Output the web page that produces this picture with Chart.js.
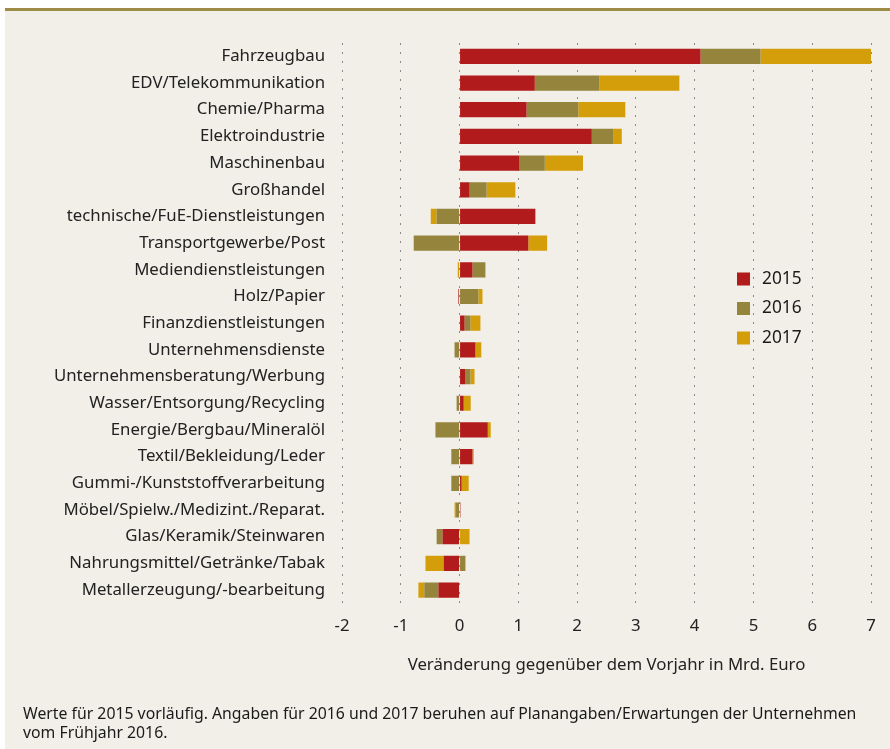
<!DOCTYPE html>
<html><head><meta charset="utf-8">
<script src="https://cdn.jsdelivr.net/npm/chart.js@4.4.1/dist/chart.umd.min.js"></script>
<style>
html,body{margin:0;padding:0;background:#fff;width:890px;height:749px;overflow:hidden;font-family:"Noto Sans",sans-serif;}
#panel{position:absolute;left:5px;top:8px;width:885px;height:741px;background:#f2efe8;border-top:3px solid #9d8c46;}
#wrap{position:absolute;left:0;top:0;width:890px;height:749px;}
#note{position:absolute;left:23px;top:704px;font-size:15.8px;line-height:18.5px;color:#1a1a1a;font-family:"Noto Sans",sans-serif;white-space:nowrap;}
</style></head>
<body>
<div id="panel"></div>
<div id="wrap"><canvas id="c" width="890" height="749"></canvas></div>
<div id="note">Werte für 2015 vorläufig. Angaben für 2016 und 2017 beruhen auf Planangaben/Erwartungen der Unternehmen<br>vom Frühjahr 2016.</div>
<script>
const categories = ["Fahrzeugbau","EDV/Telekommunikation","Chemie/Pharma","Elektroindustrie","Maschinenbau","Großhandel","technische/FuE-Dienstleistungen","Transportgewerbe/Post","Mediendienstleistungen","Holz/Papier","Finanzdienstleistungen","Unternehmensdienste","Unternehmensberatung/Werbung","Wasser/Entsorgung/Recycling","Energie/Bergbau/Mineralöl","Textil/Bekleidung/Leder","Gummi-/Kunststoffverarbeitung","Möbel/Spielw./Medizint./Reparat.","Glas/Keramik/Steinwaren","Nahrungsmittel/Getränke/Tabak","Metallerzeugung/-bearbeitung"];
const seriesNames = ["2015","2016","2017"];
const v2015 = [4.10,1.28,1.14,2.25,1.02,0.17,1.29,1.17,0.22,-0.02,0.085,0.27,0.10,0.07,0.48,0.22,0.035,0.015,-0.29,-0.27,-0.36];
const v2016 = [1.02,1.10,0.88,0.37,0.43,0.29,-0.39,-0.78,0.22,0.32,0.10,-0.085,0.085,-0.05,-0.41,-0.14,-0.14,-0.07,-0.10,0.10,-0.24];
const v2017 = [1.89,1.36,0.80,0.14,0.65,0.49,-0.10,0.32,-0.03,0.07,0.17,0.10,0.07,0.12,0.05,0.02,0.12,-0.015,0.17,-0.31,-0.10];
const xTicks = [-2,-1,0,1,2,3,4,5,6,7];
const colors = ["#b11b1b","#95843b","#d49e0a"];

const legendPlugin = {
  id: 'customLegend',
  afterDraw(chart) {
    const ctx = chart.ctx;
    ctx.save();
    ctx.font = '17.3px "Noto Sans"';
    ctx.textBaseline = 'middle';
    chart.data.datasets.forEach((ds, i) => {
      const y = 279 + i * 29.5;
      ctx.fillStyle = ds.backgroundColor;
      ctx.fillRect(737, y - 6.5, 13, 13);
      ctx.fillStyle = '#1a1a1a';
      ctx.fillText(ds.label, 762, y);
    });
    ctx.restore();
  }
};

const axisFont = {family: 'Noto Sans', size: 16.8};

new Chart(document.getElementById('c'), {
  type: 'bar',
  data: {
    labels: categories,
    datasets: [
      {label: seriesNames[0], data: v2015, backgroundColor: colors[0]},
      {label: seriesNames[1], data: v2016, backgroundColor: colors[1]},
      {label: seriesNames[2], data: v2017, backgroundColor: colors[2]}
    ]
  },
  options: {
    indexAxis: 'y',
    responsive: false,
    animation: false,
    layout: {padding: {left: 0, right: 19, top: 43, bottom: 70}},
    datasets: {bar: {categoryPercentage: 1, barPercentage: 0.57, borderWidth: 0}},
    plugins: {legend: {display: false}, tooltip: {enabled: false}},
    scales: {
      x: {
        stacked: true, min: -2, max: 7,
        afterBuildTicks: s => { s.ticks = xTicks.map(v => ({value: v})); },
        afterFit: s => { s.height = 75.6; },
        grid: {display: true, drawTicks: false, color: '#8a8a8a', lineWidth: 1},
        border: {display: false, dash: [2, 7]},
        ticks: {padding: 13, color: '#222', font: axisFont},
        title: {display: true, text: 'Veränderung gegenüber dem Vorjahr in Mrd. Euro', color: '#222', font: axisFont}
      },
      y: {
        stacked: true,
        afterFit: s => { s.width = 342; },
        grid: {display: false, drawTicks: false},
        border: {display: false},
        ticks: {padding: 17, color: '#222', autoSkip: false, font: axisFont}
      }
    }
  },
  plugins: [legendPlugin]
});
</script>
</body></html>
